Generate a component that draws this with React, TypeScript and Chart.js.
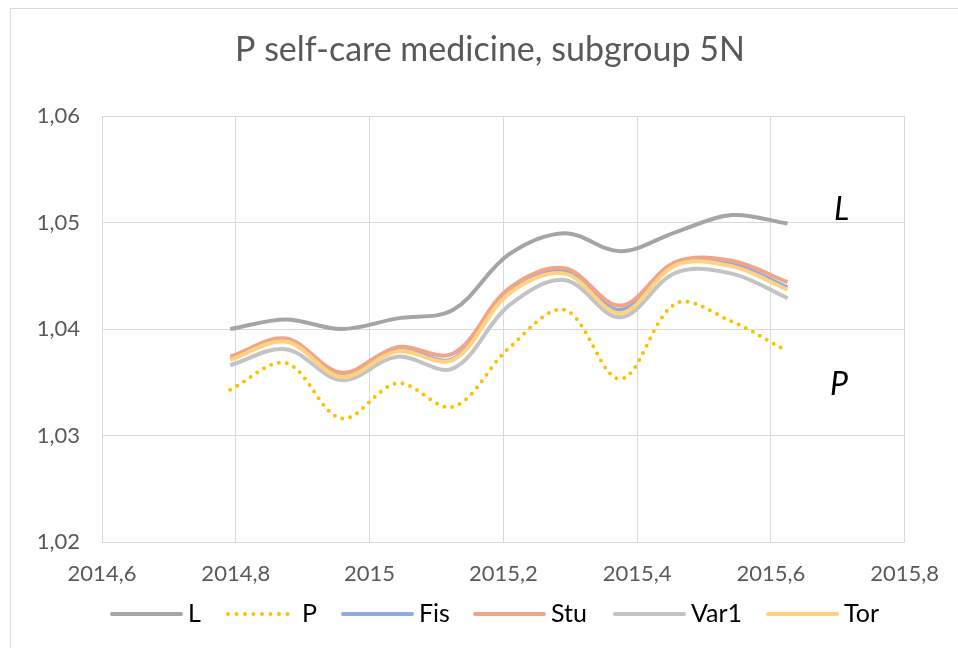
import React, { useEffect, useRef } from "react";
import { Chart, registerables } from "chart.js";

Chart.register(...registerables);

const TITLE = "P self-care medicine, subgroup 5N";

// x positions (years, monthly midpoints)
const xValues = [2014.7917, 2014.875, 2014.9583, 2015.0417, 2015.125, 2015.2083, 2015.2917, 2015.375, 2015.4583, 2015.5417, 2015.625];

const seriesL = [1.0400, 1.0409, 1.0400, 1.0410, 1.0418, 1.0470, 1.0490, 1.0473, 1.0491, 1.0507, 1.0499];
const seriesP = [1.0343, 1.0368, 1.0316, 1.0349, 1.0327, 1.0382, 1.0418, 1.0353, 1.0424, 1.0407, 1.0379];
const seriesFis = [1.0372, 1.0389, 1.0357, 1.0381, 1.0372, 1.0435, 1.0454, 1.0418, 1.0461, 1.0461, 1.0439];
const seriesStu = [1.0374, 1.0391, 1.0359, 1.0383, 1.0377, 1.0438, 1.0457, 1.0422, 1.0463, 1.0464, 1.0444];
const seriesVar1 = [1.0366, 1.0381, 1.0352, 1.0374, 1.0363, 1.0422, 1.0446, 1.0411, 1.0453, 1.0452, 1.0429];
const seriesTor = [1.0371, 1.0388, 1.0355, 1.0379, 1.0371, 1.0433, 1.0452, 1.0415, 1.0460, 1.0459, 1.0437];

const seriesNames = ["L", "P", "Fis", "Stu", "Var1", "Tor"];
const seriesColors = ["#A5A5A5", "#FFC000", "#8FAADC", "#F0A58A", "#C3C3C3", "#FFD27F"];

const xMin = 2014.6, xMax = 2015.8, xStep = 0.2;
const yMin = 1.02, yMax = 1.06, yStep = 0.01;

// end-of-line annotations (data units)
const annotL = { text: "L", x: 2015.706, y: 1.0512 };
const annotP = { text: "P", x: 2015.702, y: 1.0348 };

const FONT = "Lato, 'Open Sans', sans-serif";

export default function App() {
  const ref = useRef<HTMLCanvasElement | null>(null);
  useEffect(() => {
    document.body.style.margin = "0";
    const canvas = ref.current!;
    const all = [seriesL, seriesP, seriesFis, seriesStu, seriesVar1, seriesTor];
    const datasets = all.map((vals, i) => ({
      label: seriesNames[i],
      data: vals.map((v, j) => ({ x: xValues[j], y: v })),
      borderColor: seriesColors[i],
      backgroundColor: seriesColors[i],
      borderWidth: 4,
      pointRadius: 0,
      tension: 0.35,
      borderCapStyle: (i === 1 ? "round" : "butt") as CanvasLineCap,
      borderDash: i === 1 ? [0, 8] : [],
      order: all.length - 1 - i,
    }));

    const decor = {
      id: "decor",
      beforeDraw(chart: any) {
        const ctx = chart.ctx;
        ctx.save();
        ctx.fillStyle = "#fff";
        ctx.fillRect(0, 0, chart.width, chart.height);
        ctx.strokeStyle = "#D9D9D9";
        ctx.lineWidth = 1;
        ctx.strokeRect(10.5, 8.5, chart.width + 20, chart.height + 20);
        // title
        ctx.fillStyle = "#595959";
        ctx.font = `34px ${FONT}`;
        ctx.textAlign = "center";
        ctx.textBaseline = "middle";
        ctx.fillText(TITLE, 490, 50);
        ctx.restore();
      },
      afterDraw(chart: any) {
        const ctx = chart.ctx;
        const xs = chart.scales.x, ys = chart.scales.y;
        ctx.save();
        ctx.fillStyle = "#000";
        ctx.font = `italic 32px ${FONT}`;
        ctx.textAlign = "center";
        ctx.textBaseline = "middle";
        for (const a of [annotL, annotP]) {
          ctx.fillText(a.text, xs.getPixelForValue(a.x), ys.getPixelForValue(a.y));
        }
        // legend
        const legendStarts = [112, 226, 343, 475, 615, 768];
        const ly = 614;
        ctx.font = `25px ${FONT}`;
        ctx.textAlign = "left";
        seriesNames.forEach((name, i) => {
          const x0 = legendStarts[i];
          ctx.beginPath();
          ctx.strokeStyle = seriesColors[i];
          ctx.lineWidth = 4;
          if (i === 1) {
            ctx.setLineDash([0, 8.5]);
            ctx.lineCap = "round";
            ctx.moveTo(x0 + 2, ly);
          } else {
            ctx.setLineDash([]);
            ctx.lineCap = "round";
            ctx.moveTo(x0, ly);
          }
          ctx.lineTo(x0 + 69, ly);
          ctx.stroke();
          ctx.fillStyle = "#000";
          ctx.fillText(name, x0 + 76, ly);
        });
        ctx.restore();
      },
    };

    const fmt = (v: number, d: number) => {
      const r = Number(v.toFixed(d));
      return String(r).replace(".", ",");
    };

    const chart = new Chart(canvas, {
      type: "line",
      data: { datasets: datasets as any },
      options: {
        animation: false,
        responsive: false,
        maintainAspectRatio: false,
        layout: { padding: { top: 116, right: 52, left: 0, bottom: 0 } },
        plugins: { legend: { display: false }, title: { display: false }, tooltip: { enabled: false } },
        scales: {
          x: {
            type: "linear",
            min: xMin,
            max: xMax,
            afterFit(scale: any) { scale.height = 106; },
            ticks: {
              stepSize: xStep,
              color: "#595959",
              font: { family: FONT, size: 22 },
              padding: 19,
              maxRotation: 0,
              autoSkip: false,
              callback: (v: any) => fmt(Number(v), 1),
            },
            grid: { color: "#D9D9D9", lineWidth: 1, drawTicks: false },
            border: { display: false },
          },
          y: {
            type: "linear",
            min: yMin,
            max: yMax,
            afterFit(scale: any) { scale.width = 102; },
            ticks: {
              stepSize: yStep,
              color: "#595959",
              font: { family: FONT, size: 22 },
              padding: 22,
              callback: (v: any) => Number(v).toFixed(2).replace(".", ","),
            },
            grid: { color: "#D9D9D9", lineWidth: 1, drawTicks: false },
            border: { display: false },
          },
        },
      },
      plugins: [decor],
    });
    return () => chart.destroy();
  }, []);
  return <canvas ref={ref} width={958} height={648} style={{ display: "block" }} />;
}
